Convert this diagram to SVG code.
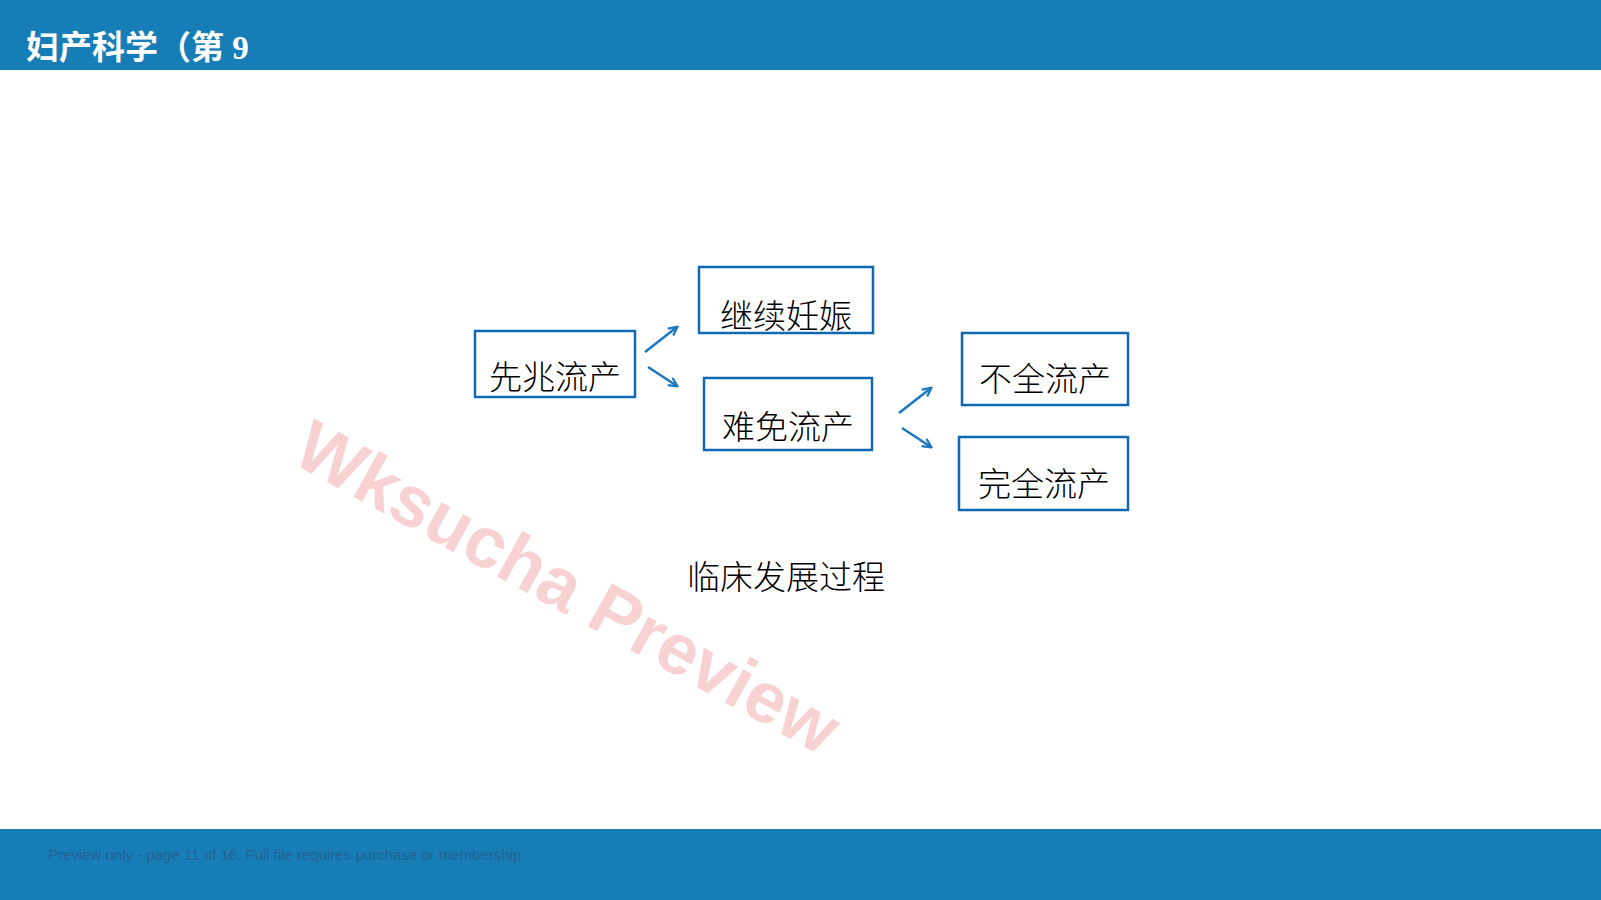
<svg xmlns="http://www.w3.org/2000/svg" width="1601" height="900" viewBox="0 0 1601 900">
<style>
.bar{fill:#167db7}
.box{fill:#ffffff;stroke:#1268b0;stroke-width:2.5}
.lbl{font-family:"Noto Sans CJK SC","Noto Sans",sans-serif;font-size:33px;font-weight:300;fill:#000;text-anchor:middle}
.arr{stroke:#1b77bf;stroke-width:2.5;fill:none;marker-end:url(#ah)}
.title{font-family:"Liberation Serif","Noto Sans CJK SC",serif;font-size:33px;font-weight:bold;fill:#fff}
.wm{font-family:"Liberation Sans",Arial,sans-serif;font-size:72px;font-weight:bold;fill:#e03333;fill-opacity:0.22;text-anchor:middle}
.foot{font-family:"Liberation Sans",Arial,sans-serif;font-size:15px;fill:#2f4f78;fill-opacity:0.6}
</style>
<defs>
<marker id="ah" viewBox="0 0 10 10" refX="8.5" refY="5" markerWidth="11" markerHeight="11" markerUnits="userSpaceOnUse" orient="auto">
<path d="M1,1 L9,5 L1,9" fill="none" stroke="#1b77bf" stroke-width="2"/>
</marker>
</defs>
<rect x="0" y="0" width="1601" height="900" fill="#ffffff"/>
<g id="header">
<rect class="bar" x="0" y="0" width="1601" height="70"/>
<text class="title" x="26" y="59">妇产科学（第 9</text>
</g>
<g id="footer">
<rect class="bar" x="0" y="829" width="1601" height="71"/>
<text class="foot" x="48" y="860">Preview only - page 11 of 16. Full file requires purchase or membership.</text>
</g>
<g id="watermark" transform="translate(568,587) rotate(29)">
<text class="wm" x="0" y="25">Wksucha Preview</text>
</g>
<g id="connectors">
<line class="arr" x1="645" y1="352" x2="677" y2="327"/>
<line class="arr" x1="648" y1="367" x2="677" y2="386"/>
<line class="arr" x1="899" y1="413" x2="931" y2="388"/>
<line class="arr" x1="902" y1="428" x2="931" y2="447"/>
</g>
<g id="node-threatened">
<rect class="box" x="475" y="331" width="160" height="66"/>
<text class="lbl" x="555" y="389">先兆流产</text>
</g>
<g id="node-continue">
<rect class="box" x="699" y="267" width="174" height="66"/>
<text class="lbl" x="786" y="328">继续妊娠</text>
</g>
<g id="node-inevitable">
<rect class="box" x="704" y="378" width="168" height="72"/>
<text class="lbl" x="788" y="439">难免流产</text>
</g>
<g id="node-incomplete">
<rect class="box" x="962" y="333" width="166" height="72"/>
<text class="lbl" x="1045" y="391">不全流产</text>
</g>
<g id="node-complete">
<rect class="box" x="959" y="437" width="169" height="73"/>
<text class="lbl" x="1044" y="496">完全流产</text>
</g>
<g id="caption">
<text class="lbl" x="786" y="589">临床发展过程</text>
</g>
</svg>
